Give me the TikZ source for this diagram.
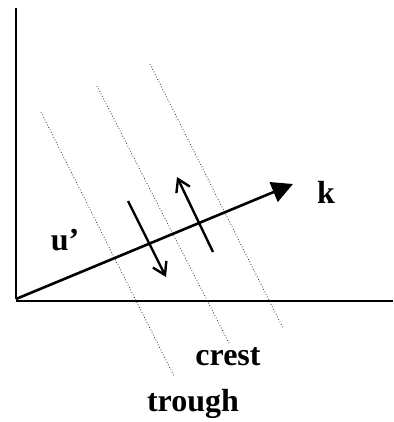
\documentclass[tikz,border=0pt]{standalone}
\usepackage{fontspec}
\setmainfont{Liberation Serif}
\usetikzlibrary{arrows.meta}
\begin{document}
\begin{tikzpicture}[x=1pt,y=-1pt,
  axis/.style={line width=2.6pt},
  wavefront/.style={line width=0.8pt, dotted, black!80},
  kvec/.style={line width=2.6pt, -{Triangle[length=21pt,width=21pt]}},
  uvec/.style={line width=2.4pt, -{Straight Barb[length=12pt,width=15pt,line width=2.4pt]}},
  lab/.style={font=\fontsize{32}{36}\selectfont\bfseries, inner sep=0pt}]
\useasboundingbox (0,0) rectangle (393,422);
% axes
\coordinate (top) at (16,8);
\coordinate (O) at (16,299);
\coordinate (right) at (393,301);
\draw[axis] (top) -- (O);
\draw[axis] (16,301) -- (right);
% wavefronts
\coordinate (w1a) at (41,112);  \coordinate (w1b) at (174,376);
\coordinate (w2a) at (97,86);   \coordinate (w2b) at (230,345);
\coordinate (w3a) at (150,64);  \coordinate (w3b) at (283,328);
\draw[wavefront] (w1a) -- (w1b);
\draw[wavefront] (w2a) -- (w2b);
\draw[wavefront] (w3a) -- (w3b);
% k vector
\coordinate (ktip) at (293,184);
\draw[kvec] (O) -- (ktip);
% velocity arrows
\coordinate (d1) at (128,201); \coordinate (d2) at (166,277);
\coordinate (u1) at (213,252); \coordinate (u2) at (177,177);
\draw[uvec] (d1) -- (d2);
\draw[uvec] (u1) -- (u2);
% labels
\node[lab] (k) at (326,192) {k};
\node[lab] (u) at (65,240) {u’};
\node[lab] (crest) at (228,357) {crest};
\node[lab] (trough) at (193,404) {trough};
\end{tikzpicture}
\end{document}
